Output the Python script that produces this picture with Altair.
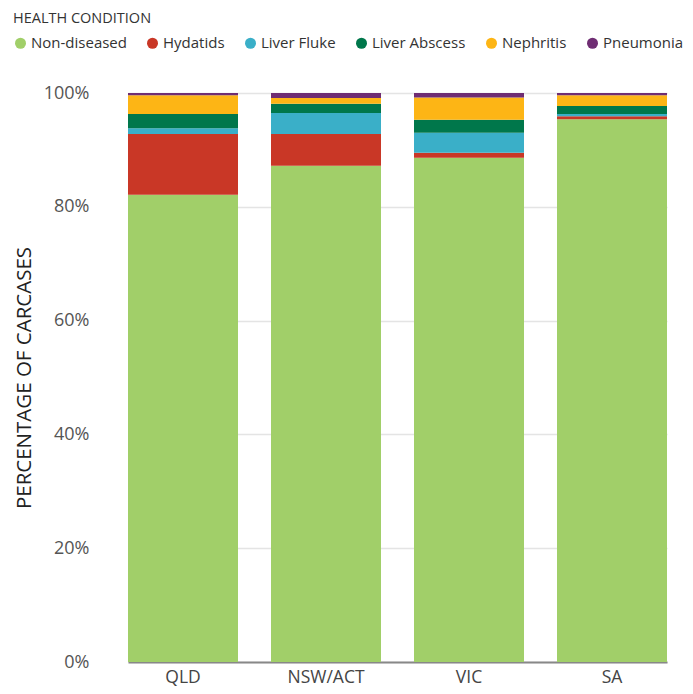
import altair as alt
import pandas as pd

regions = ["QLD", "NSW/ACT", "VIC", "SA"]
conditions = ["Non-diseased", "Hydatids", "Liver Fluke", "Liver Abscess", "Nephritis", "Pneumonia"]
colors = ["#a1cf69", "#c93726", "#3aafc8", "#00774b", "#fdb515", "#6f2d73"]

non_diseased = [82.1, 87.2, 88.6, 95.4]
hydatids = [10.7, 5.6, 0.9, 0.5]
liver_fluke = [1.0, 3.7, 3.5, 0.4]
liver_abscess = [2.5, 1.6, 2.3, 1.4]
nephritis = [3.3, 1.0, 3.9, 1.9]
pneumonia = [0.4, 0.9, 0.8, 0.4]

series = [non_diseased, hydatids, liver_fluke, liver_abscess, nephritis, pneumonia]
rows = []
for ci, (cond, vals) in enumerate(zip(conditions, series)):
    for r, v in zip(regions, vals):
        rows.append({"region": r, "condition": cond, "value": v, "idx": ci})
df = pd.DataFrame(rows)

FONT = "Open Sans"

chart = alt.Chart(df).mark_bar().encode(
    x=alt.X("region:N", sort=regions, title=None,
            scale=alt.Scale(range=[31, 570], paddingInner=0.2308, paddingOuter=0),
            axis=alt.Axis(labelAngle=0, labelFontSize=17.5, labelColor="#444", labelPadding=6,
                          domainColor="#888", domainWidth=2, ticks=False, labelFont=FONT)),
    y=alt.Y("value:Q", stack="zero", title="PERCENTAGE OF CARCASES",
            scale=alt.Scale(domain=[0, 100], nice=False),
            axis=alt.Axis(values=[0, 20, 40, 60, 80, 100], labelExpr="datum.value + '%'",
                          labelFontSize=18, labelColor="#555", labelPadding=8, labelFont=FONT,
                          domain=False, ticks=False, gridColor="#e4e4e4", gridWidth=1.5,
                          titleFontSize=20.5, titleFont=FONT, titleFontWeight="normal",
                          titleColor="#222", titlePadding=9)),
    color=alt.Color("condition:N", sort=conditions,
                    scale=alt.Scale(domain=conditions, range=colors),
                    legend=alt.Legend(title="HEALTH CONDITION", orient="none", direction="horizontal",
                                      legendX=-84, legendY=-81, columns=6,
                                      symbolType="circle", symbolSize=121, symbolStrokeWidth=0,
                                      labelFontSize=15, labelColor="#333", labelFont=FONT,
                                      labelOffset=3, columnPadding=18,
                                      titleFontSize=14.5, titleFont=FONT, titleFontWeight="normal",
                                      titleColor="#333", titlePadding=9)),
    order=alt.Order("idx:Q", sort="ascending"),
).properties(
    width=588, height=569,
    autosize=alt.AutoSizeParams(type="none"),
    padding={"left": 89, "top": 85, "right": 0, "bottom": 24},
).configure_view(stroke=None)

chart.save("out.html", embed_options={"renderer": "svg", "actions": False})
